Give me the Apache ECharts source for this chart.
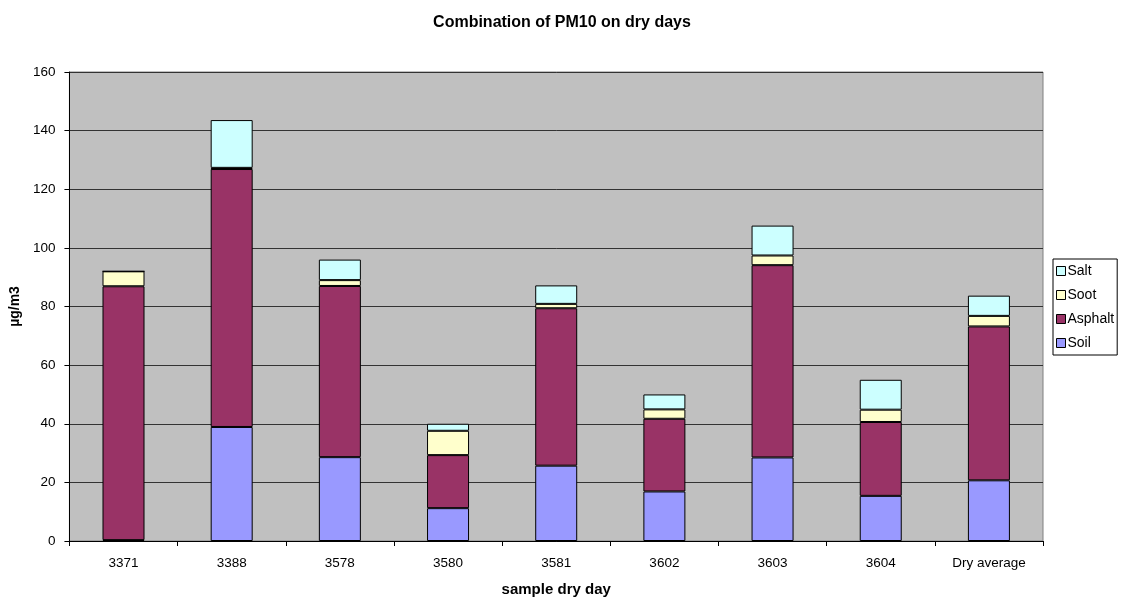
<!DOCTYPE html>
<html>
<head>
<meta charset="utf-8">
<script src="https://cdn.jsdelivr.net/npm/echarts@6/dist/echarts.min.js"></script>
<style>html,body{margin:0;padding:0;background:#fff}#c{width:1124px;height:602px}</style>
</head>
<body>
<div id="c"></div>
<script>
const categories = ['3371','3388','3578','3580','3581','3602','3603','3604','Dry average'];
const soil    = [0.3, 38.9, 28.6, 11.2, 25.7, 16.9, 28.5, 15.4, 20.7];
const asphalt = [86.6, 88.0, 58.4, 18.1, 53.7, 24.8, 65.6, 25.2, 52.5];
const soot    = [5.1, 0.4, 2.0, 8.3, 1.5, 3.2, 3.3, 4.2, 3.6];
const salt    = [0, 16.3, 7.0, 2.4, 6.3, 5.1, 10.2, 10.2, 6.9];
const yTicks = [0, 20, 40, 60, 80, 100, 120, 140, 160];

const font = 'Liberation Sans, Arial, sans-serif';
function bar(name, data, color) {
  return {
    name, type: 'bar', stack: 'total', data, barWidth: 42,
    itemStyle: { color, borderColor: '#000', borderWidth: 1 },
    emphasis: { disabled: true }
  };
}
const chart = echarts.init(document.getElementById('c'));
chart.setOption({
  animation: false,
  backgroundColor: '#fff',
  textStyle: { fontFamily: font },
  title: {
    text: 'Combination of PM10 on dry days', left: 'center', top: 10,
    textStyle: { fontFamily: font, fontSize: 16, fontWeight: 'bold', color: '#000' }
  },
  legend: {
    orient: 'vertical', left: 1053, top: 259,
    data: ['Salt', 'Soot', 'Asphalt', 'Soil'],
    itemWidth: 9, itemHeight: 9, itemGap: 10, icon: 'rect',
    padding: [5, 3, 5, 3],
    borderColor: '#000', borderWidth: 1,
    textStyle: { fontFamily: font, fontSize: 14, color: '#000', padding: [0, 0, 0, -3] },
    itemStyle: { borderColor: '#000', borderWidth: 1 }
  },
  grid: {
    left: 68, right: 81, top: 72, bottom: 59,
    show: true, backgroundColor: '#C0C0C0', borderColor: '#808080', borderWidth: 1
  },
  xAxis: {
    type: 'category', data: categories,
    name: 'sample dry day', nameLocation: 'middle', nameGap: 41,
    nameTextStyle: { fontFamily: font, fontSize: 15, fontWeight: 'bold', color: '#000' },
    axisLine: { lineStyle: { color: '#000' } },
    axisTick: { show: true, length: 5, interval: 0, lineStyle: { color: '#000' } },
    axisLabel: { interval: 0, color: '#000', fontSize: 13.5, margin: 15, fontFamily: font }
  },
  yAxis: {
    type: 'value', min: yTicks[0], max: yTicks[yTicks.length - 1], interval: 20,
    name: 'µg/m3', nameLocation: 'middle', nameGap: 43, nameRotate: 90,
    nameTextStyle: { fontFamily: font, fontSize: 14, fontWeight: 'bold', color: '#000' },
    axisLine: { show: true, lineStyle: { color: '#000' } },
    axisTick: { show: true, length: 5, lineStyle: { color: '#000' } },
    axisLabel: { color: '#000', fontSize: 13.5, margin: 14, fontFamily: font },
    splitLine: { show: true, lineStyle: { color: '#333', width: 1 } }
  },
  series: [
    bar('Soil', soil, '#9999FF'),
    bar('Asphalt', asphalt, '#993366'),
    bar('Soot', soot, '#FFFFCC'),
    bar('Salt', salt, '#CCFFFF')
  ]
});
</script>
</body>
</html>
